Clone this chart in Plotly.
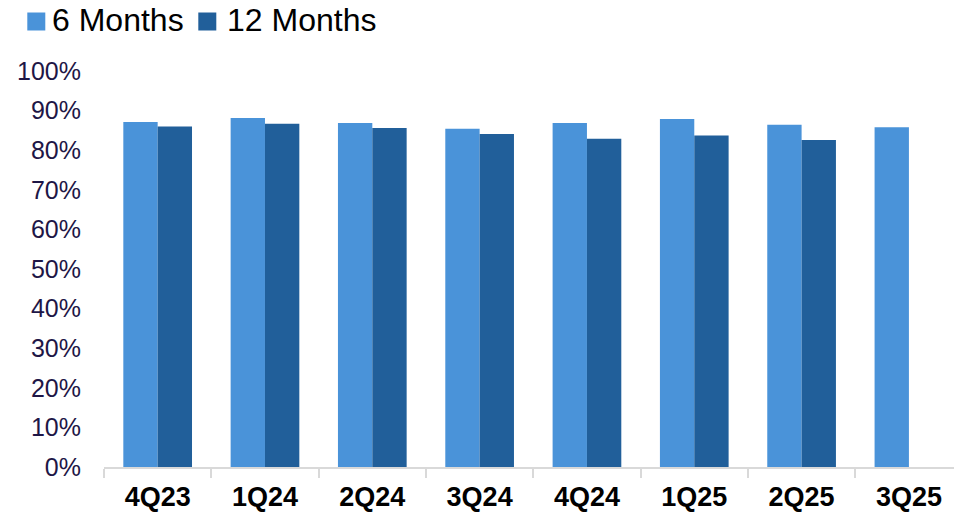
import plotly.graph_objects as go

# Quarterly share (%) by horizon
quarters = ["4Q23", "1Q24", "2Q24", "3Q24", "4Q24", "1Q25", "2Q25", "3Q25"]
six_months = [87.1, 88.1, 86.9, 85.4, 86.9, 87.9, 86.4, 85.8]
twelve_months = [86.0, 86.7, 85.6, 84.1, 82.9, 83.7, 82.6, None]
series_names = ["6 Months", "12 Months"]
series_colors = ["#4A93D9", "#215F9A"]
y_ticks = list(range(0, 101, 10))
y_tick_text = [f"{v}%" for v in y_ticks]

W, H = 954, 516
L, R, T, B = 104, 0, 71, 49
plot_w = W - L - R
plot_h = H - T - B

fig = go.Figure()
for name, vals, color in zip(series_names, [six_months, twelve_months], series_colors):
    fig.add_trace(go.Bar(
        x=quarters, y=vals, name=name,
        marker=dict(color=color, line=dict(width=0)),
        showlegend=False,
    ))

# Hand-drawn legend row above the plot
def px_x(px):
    return (px - L) / plot_w

def px_y(py):
    return (H - B - py) / plot_h

legend_items = [(27.3, 51.0), (198.3, 226.0)]
for (sx, tx), name, color in zip(legend_items, series_names, series_colors):
    fig.add_shape(type="rect", xref="paper", yref="paper",
                  x0=px_x(sx), x1=px_x(sx + 18), y0=px_y(30.5), y1=px_y(12.5),
                  fillcolor=color, line=dict(width=0))
    fig.add_annotation(text=name, xref="paper", yref="paper",
                       x=px_x(tx), y=px_y(19.5), xanchor="left", yanchor="middle",
                       showarrow=False, borderpad=0,
                       font=dict(family="Liberation Sans, Arial", size=32, color="#000000"))

fig.update_layout(
    width=W, height=H,
    margin=dict(l=L, r=R, t=T, b=B, pad=0, autoexpand=False),
    paper_bgcolor="white", plot_bgcolor="white",
    barmode="group", bargap=0.36, bargroupgap=0,
    font=dict(family="Liberation Sans, Arial"),
)
fig.update_xaxes(
    type="category", range=[-0.5, 7.42], automargin=False,
    showline=True, linecolor="#D9D9D9", linewidth=2,
    ticks="outside", tickson="boundaries", ticklen=9, tickcolor="#D9D9D9", tickwidth=2,
    showgrid=False, zeroline=False,
    tickfont=dict(family="Liberation Sans, Arial", size=27, color="#000000", weight="bold"),
    ticklabelstandoff=5,
)
fig.update_yaxes(
    range=[0, 100], tickmode="array", tickvals=y_ticks, ticktext=y_tick_text, automargin=False,
    showline=False, showgrid=False, zeroline=False, ticks="",
    tickfont=dict(family="Liberation Sans, Arial", size=25, color="#1E1646"),
    ticklabelstandoff=22,
)

fig.write_html("out.html")
